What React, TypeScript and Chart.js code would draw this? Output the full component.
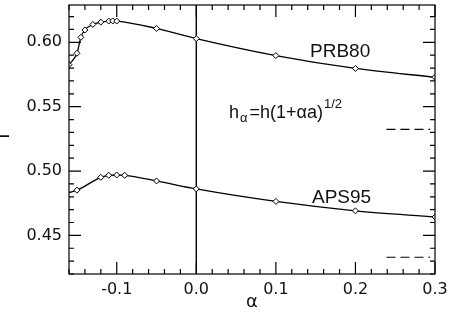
import React, { useEffect, useRef } from "react";
import { Chart, registerables } from "chart.js";
Chart.register(...registerables);

// PRB80 curve (alpha, Gamma)
const prbAlpha = [-0.16, -0.15, -0.145, -0.14, -0.13, -0.12, -0.11, -0.105, -0.1, -0.05, 0.0, 0.1, 0.2, 0.3];
const prbGamma = [0.5826, 0.5915, 0.6039, 0.6096, 0.6139, 0.6157, 0.6165, 0.6166, 0.6165, 0.6108, 0.6029, 0.5897, 0.5797, 0.5728];
// APS95 curve (first point is the curve start at the frame, no marker)
const apsAlpha = [-0.16, -0.15, -0.12, -0.11, -0.1, -0.09, -0.05, 0.0, 0.1, 0.2, 0.3];
const apsGamma = [0.4833, 0.4851, 0.4951, 0.4967, 0.4969, 0.4967, 0.4923, 0.4861, 0.4764, 0.4691, 0.4643];
// short dashed reference segments
const dashAlpha = [0.239, 0.294];
const dashLevels = [0.5324, 0.433];

const xMajor = [-0.1, 0.0, 0.1, 0.2, 0.3];
const yMajor = [0.45, 0.5, 0.55, 0.6];
const xRange = [-0.16, 0.3];
const yRange = [0.42, 0.629];
const xMinorStep = 0.02;
const yMinorStep = 0.01;

const seriesLabels = ["PRB80", "APS95"];

const framePlugin = {
  id: "framePlugin",
  beforeDatasetsDraw(chart: any) {
    const { ctx, chartArea: a, scales } = chart;
    const x0 = scales.x.getPixelForValue(0);
    ctx.save();
    ctx.strokeStyle = "#000";
    ctx.lineWidth = 1.4;
    ctx.beginPath();
    ctx.moveTo(x0, a.top);
    ctx.lineTo(x0, a.bottom);
    ctx.stroke();
    ctx.restore();
  },
  afterDraw(chart: any) {
    const { ctx, chartArea: a, scales } = chart;
    const xs = scales.x;
    const ys = scales.y;
    ctx.save();
    ctx.strokeStyle = "#000";
    ctx.lineWidth = 1.2;
    ctx.strokeRect(a.left, a.top, a.right - a.left, a.bottom - a.top);
    const major = 12;
    const minor = 5;
    ctx.beginPath();
    // x ticks
    for (let i = 0; ; i++) {
      const v = xRange[0] + i * xMinorStep;
      if (v > xRange[1] + 1e-9) break;
      const isMajor = xMajor.some((m) => Math.abs(m - v) < 1e-6);
      const len = isMajor ? major : minor;
      const px = xs.getPixelForValue(v);
      ctx.moveTo(px, a.bottom);
      ctx.lineTo(px, a.bottom - len);
      ctx.moveTo(px, a.top);
      ctx.lineTo(px, a.top + len);
    }
    // y ticks
    for (let i = 0; ; i++) {
      const v = yRange[0] + i * yMinorStep;
      if (v > yRange[1] + 1e-9) break;
      const isMajor = yMajor.some((m) => Math.abs(m - v) < 1e-6);
      const len = isMajor ? major : minor;
      const py = ys.getPixelForValue(v);
      ctx.moveTo(a.left, py);
      ctx.lineTo(a.left + len, py);
      ctx.moveTo(a.right, py);
      ctx.lineTo(a.right - len, py);
    }
    ctx.stroke();

    ctx.fillStyle = "#111";
    ctx.textBaseline = "alphabetic";
    ctx.textAlign = "left";
    ctx.font = '19px "Liberation Sans"';
    ctx.fillText(seriesLabels[0], 310, 57);
    ctx.fillText(seriesLabels[1], 312, 203);

    // formula h_alpha = h(1+alpha a)^{1/2}
    let fx = 229;
    ctx.font = '18px "Liberation Sans"';
    ctx.fillText("h", fx, 118);
    fx += ctx.measureText("h").width + 1;
    ctx.font = '13px "Liberation Sans"';
    ctx.fillText("α", fx, 122);
    fx += ctx.measureText("α").width + 2;
    ctx.font = '18px "Liberation Sans"';
    ctx.fillText("=h(1+αa)", fx, 118);
    fx += ctx.measureText("=h(1+αa)").width + 1;
    ctx.font = '13px "Liberation Sans"';
    ctx.fillText("1/2", fx, 108);

    // axis titles
    ctx.font = '18px "DejaVu Sans"';
    ctx.textAlign = "center";
    ctx.textBaseline = "middle";
    ctx.fillText("α", (a.left + a.right) / 2, 302);
    ctx.translate(5, 134);
    ctx.rotate(-Math.PI / 2);
    ctx.font = '16px "DejaVu Sans"';
    ctx.fillText("Γ", 0, 0);
    ctx.restore();
  },
};

export default function App() {
  const ref = useRef<HTMLCanvasElement | null>(null);
  useEffect(() => {
    if (!ref.current) return;
    const pts = (xa: number[], ya: number[]) => xa.map((x, i) => ({ x, y: ya[i] }));
    const markerStyle = {
      borderColor: "#000",
      borderWidth: 1.3,
      pointStyle: "rectRot",
      pointBackgroundColor: "#fff",
      pointBorderColor: "#000",
      pointBorderWidth: 1,
      showLine: true,
      fill: false,
      cubicInterpolationMode: "monotone",
    };
    const chart = new Chart(ref.current, {
      type: "scatter",
      data: {
        datasets: [
          { label: seriesLabels[0], data: pts(prbAlpha, prbGamma), pointRadius: 3, ...markerStyle } as any,
          {
            label: seriesLabels[1],
            data: pts(apsAlpha, apsGamma),
            pointRadius: (c: any) => (c.dataIndex === 0 ? 0 : 3),
            ...markerStyle,
          } as any,
          {
            label: "dash1",
            data: pts(dashAlpha, [dashLevels[0], dashLevels[0]]),
            showLine: true,
            borderColor: "#000",
            borderWidth: 1.2,
            borderDash: [9, 5],
            pointRadius: 0,
          },
          {
            label: "dash2",
            data: pts(dashAlpha, [dashLevels[1], dashLevels[1]]),
            showLine: true,
            borderColor: "#000",
            borderWidth: 1.2,
            borderDash: [9, 5],
            pointRadius: 0,
          },
        ],
      },
      options: {
        responsive: false,
        animation: false,
        layout: { padding: { top: 3, right: 15, left: 0, bottom: 0 } },
        plugins: { legend: { display: false }, tooltip: { enabled: false } },
        scales: {
          x: {
            type: "linear",
            min: xRange[0],
            max: xRange[1],
            grid: { display: false, drawTicks: false },
            border: { display: false },
            afterBuildTicks: (s: any) => {
              s.ticks = xMajor.map((v) => ({ value: v }));
            },
            afterFit: (s: any) => {
              s.height = 41;
              s.paddingLeft = 0;
              s.paddingRight = 0;
            },
            ticks: {
              color: "#111",
              font: { family: "DejaVu Sans", size: 16 },
              padding: 6,
              maxRotation: 0,
              callback: (v: any) => Number(v).toFixed(1),
            },
          },
          y: {
            type: "linear",
            min: yRange[0],
            max: yRange[1],
            grid: { display: false, drawTicks: false },
            border: { display: false },
            afterBuildTicks: (s: any) => {
              s.ticks = yMajor.map((v) => ({ value: v }));
            },
            afterFit: (s: any) => {
              s.width = 69;
              s.paddingTop = 0;
              s.paddingBottom = 0;
            },
            ticks: {
              color: "#111",
              font: { family: "DejaVu Sans", size: 16 },
              padding: 7,
              callback: (v: any) => Number(v).toFixed(2),
            },
          },
        },
      },
      plugins: [framePlugin],
    } as any);
    return () => chart.destroy();
  }, []);
  return (
    <div style={{ position: "absolute", left: 0, top: 0, width: 450, height: 315, background: "#fff" }}>
      <canvas ref={ref} width={450} height={315} />
    </div>
  );
}
